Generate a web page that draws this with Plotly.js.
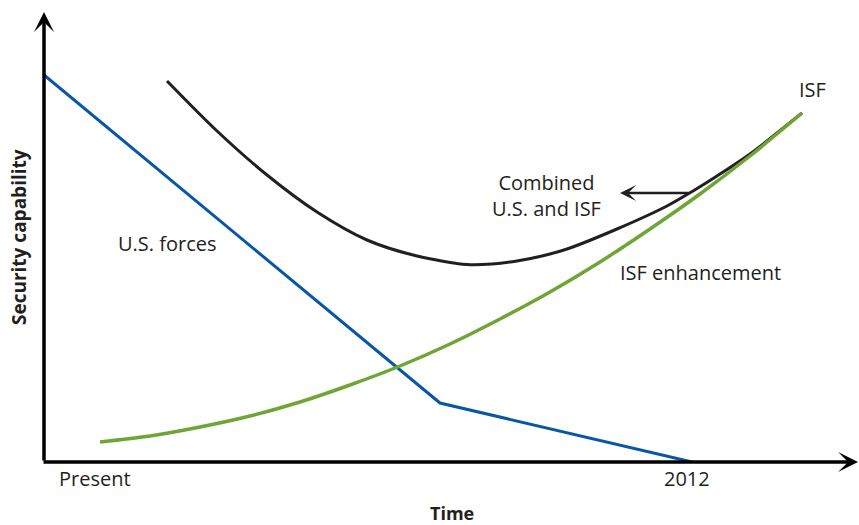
<!DOCTYPE html>
<html>
<head>
<meta charset="utf-8">
<script src="https://cdn.plot.ly/plotly-3.0.1.min.js"></script>
<style>html,body{margin:0;padding:0;background:#fff;}#chart{width:859px;height:525px;}</style>
</head>
<body>
<div id="chart"></div>
<script>
// Time runs 0..814 (Present at left axis), capability 0..450
const usForcesTime = [0, 396, 648];
const usForcesCap = [387, 59, 0];

const isfTime = [56, 106, 156, 206, 256, 306, 356, 406, 456, 506, 556, 606, 656, 706, 758];
const isfCap = [20, 26, 35, 46, 60, 77, 96, 118, 143, 170, 200, 233, 268, 306, 349];

const combinedTime = [123, 173, 223, 273, 323, 373, 423, 448, 473, 498, 523, 573, 623, 649, 673, 706, 758];
const combinedCap = [381, 331, 287, 250, 222, 206, 197.5, 198, 201, 206, 213, 233, 256, 271, 286, 308, 349];

const xTickLabels = ["Present", "2012"];
const xTickTimes = [51, 643];

const TXT = '#231f20';
const FONT = 'Open Sans, Noto Sans, sans-serif';

const traces = [
  {x: usForcesTime, y: usForcesCap, mode: 'lines', line: {color: '#0a56a6', width: 3}, cliponaxis: false, hoverinfo: 'skip'},
  {x: combinedTime, y: combinedCap, mode: 'lines', line: {color: '#231f20', width: 3, shape: 'spline', smoothing: 0.8}, cliponaxis: false, hoverinfo: 'skip'},
  {x: isfTime, y: isfCap, mode: 'lines', line: {color: '#6ea535', width: 3.5, shape: 'spline', smoothing: 0.8}, cliponaxis: false, hoverinfo: 'skip'}
];

const ann = [];
// axes with arrows
ann.push({x: 0, y: 450, ax: 0, ay: 0, xref: 'x', yref: 'y', axref: 'x', ayref: 'y', showarrow: true, arrowhead: 3, arrowwidth: 3.5, arrowsize: 0.95, arrowcolor: '#000', text: ''});
ann.push({x: 814, y: 0, ax: -2, ay: 0, xref: 'x', yref: 'y', axref: 'x', ayref: 'y', showarrow: true, arrowhead: 3, arrowwidth: 3.5, arrowsize: 0.95, arrowcolor: '#000', text: ''});
// combined pointer arrow
ann.push({x: 576, y: 269, ax: 646, ay: 269, xref: 'x', yref: 'y', axref: 'x', ayref: 'y', showarrow: true, arrowhead: 3, arrowwidth: 2.7, arrowsize: 1, arrowcolor: '#231f20', text: ''});

function label(text, x, y, opts) {
  return Object.assign({text: text, x: x, y: y, xref: 'x', yref: 'y', showarrow: false,
    font: {family: FONT, size: 20, color: TXT}, xanchor: 'center', yanchor: 'middle'}, opts || {});
}
ann.push(label('ISF', 768, 373));
ann.push(label('Combined<br>U.S. and ISF', 502, 267, {align: 'center'}));
ann.push(label('U.S. forces', 123, 219));
ann.push(label('ISF enhancement', 656, 190));
for (let i = 0; i < xTickLabels.length; i++) {
  ann.push(label(xTickLabels[i], xTickTimes[i], 0, {yref: 'paper', yshift: -16}));
}
ann.push(label('<b>Time</b>', 408, 0, {yref: 'paper', yshift: -51, font: {family: FONT, size: 18, color: TXT}}));
ann.push(label('<b>Security capability</b>', 0, 225, {xref: 'paper', xshift: -25, textangle: -90, font: {family: FONT, size: 19, color: TXT}}));

const layout = {
  width: 859, height: 525,
  margin: {l: 44, r: 1, t: 12, b: 63},
  paper_bgcolor: '#fff', plot_bgcolor: '#fff',
  showlegend: false,
  xaxis: {range: [0, 814], showgrid: false, zeroline: false, showticklabels: false, showline: false, ticks: '', fixedrange: true},
  yaxis: {range: [0, 450], showgrid: false, zeroline: false, showticklabels: false, showline: false, ticks: '', fixedrange: true},
  annotations: ann
};

Plotly.newPlot('chart', traces, layout, {displayModeBar: false, staticPlot: true});
</script>
</body>
</html>
